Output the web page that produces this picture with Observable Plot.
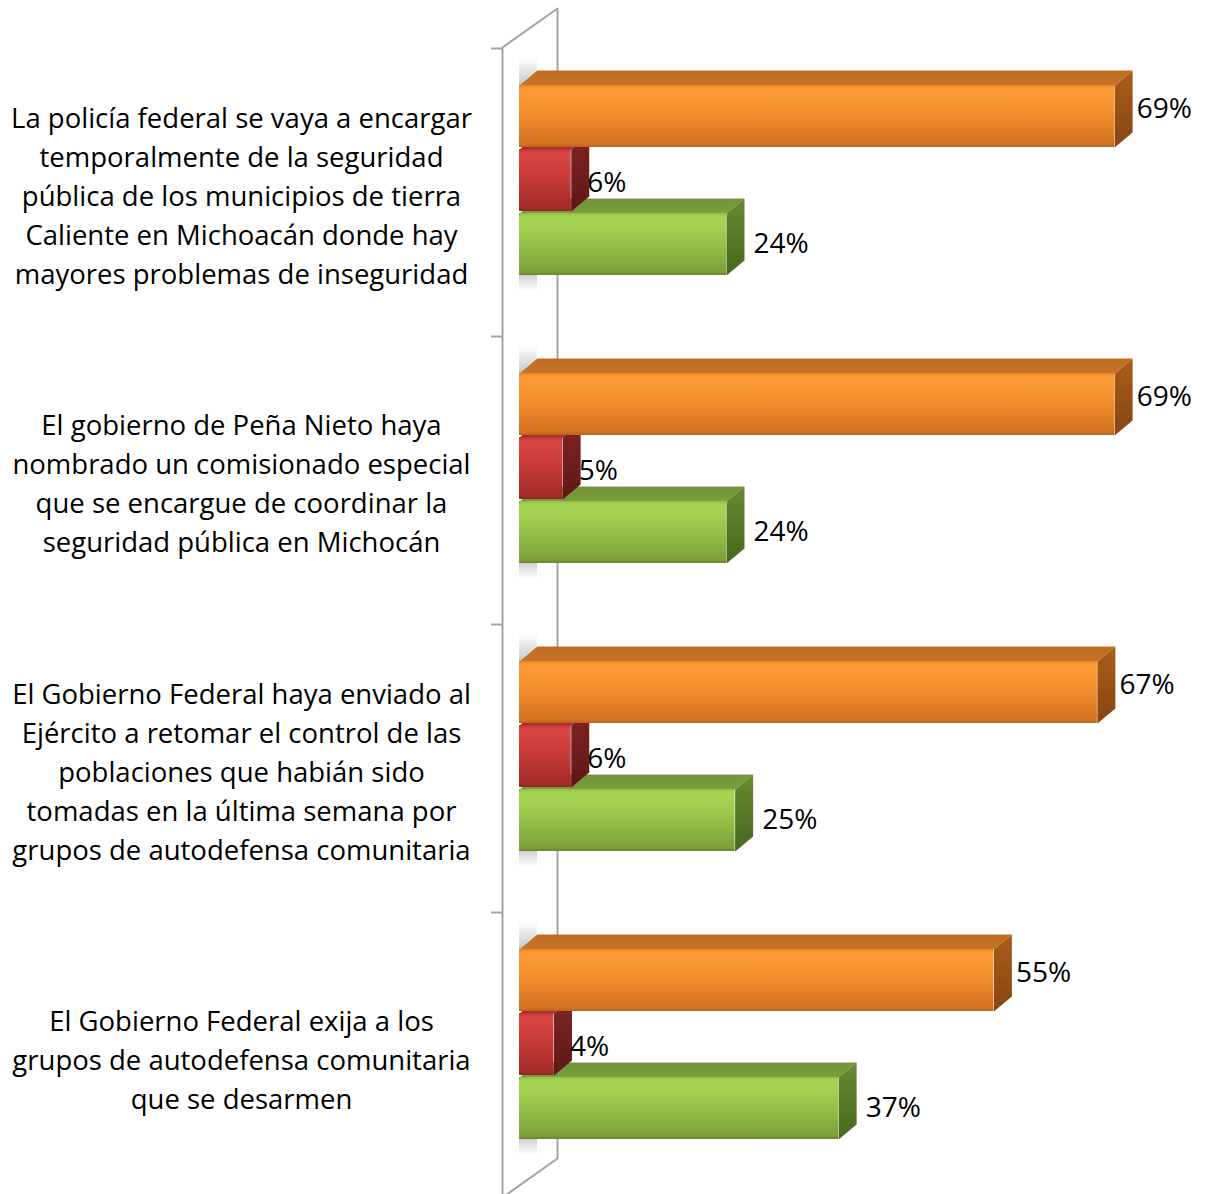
<!DOCTYPE html>
<html><head><meta charset="utf-8">
<script src="https://cdn.jsdelivr.net/npm/d3@7"></script>
<script src="https://cdn.jsdelivr.net/npm/@observablehq/plot@0.6"></script>
<style>html,body{margin:0;padding:0;background:#fff}</style>
</head><body><div id="chart"></div>
<script>
const categories = [
  "La policía federal se vaya a encargar\ntemporalmente de la seguridad\npública de los municipios de tierra\nCaliente en Michoacán donde hay\nmayores problemas de inseguridad",
  "El gobierno de Peña Nieto haya\nnombrado un comisionado especial\nque se encargue de coordinar la\nseguridad pública en Michocán",
  "El Gobierno Federal haya enviado al\nEjército a retomar el control de las\npoblaciones que habián sido\ntomadas en la última semana por\ngrupos de autodefensa comunitaria",
  "El Gobierno Federal exija a los\ngrupos de autodefensa comunitaria\nque se desarmen"
];
const seriesNames = ["De acuerdo", "En desacuerdo", "No sabe"];
const orangeValues = [69, 69, 67, 55];
const redValues = [6, 5, 6, 4];
const greenValues = [24, 24, 25, 37];

// layout constants
const W = 1211, H = 1194;
const PX = 8.625;          // px per percent
const X0 = 519;            // px position of 0%
const UNIT = 64;           // px per bar slot
const Y0 = 85;             // px top of first bar
const GROUP = 4.5;         // slots per category
const BAR = 62 / 64;       // bar thickness in slots
const DXP = 18, DYP = 15;  // 3D depth in px
const DX = DXP / PX, DY = DYP / UNIT;
const FONT = "'Open Sans', 'Noto Sans', sans-serif";
const CAT_SIZE = 27.5, VAL_SIZE = 28;

const valueSets = [orangeValues, redValues, greenValues];
const rows = [];
categories.forEach((c, i) => {
  valueSets.forEach((vals, s) => {
    rows.push({category: c, series: seriesNames[s], s, i, value: vals[i], slot: i * GROUP + s});
  });
});

function topFaces(s) {
  const pts = [];
  rows.filter(d => d.s === s).forEach(d => {
    const id = d.i;
    pts.push({id, x: 0, y: d.slot}, {id, x: d.value, y: d.slot},
             {id, x: d.value + DX, y: d.slot - DY}, {id, x: DX, y: d.slot - DY});
  });
  return pts;
}
function sideFaces(s) {
  const pts = [];
  rows.filter(d => d.s === s).forEach(d => {
    const id = d.i;
    pts.push({id, x: d.value, y: d.slot}, {id, x: d.value + DX, y: d.slot - DY},
             {id, x: d.value + DX, y: d.slot + BAR - DY}, {id, x: d.value, y: d.slot + BAR});
  });
  return pts;
}

// wall (px converted to data units)
const px2x = p => (p - X0) / PX;
const px2y = p => (p - Y0) / UNIT;
const wall = [
  {x: px2x(502), y: px2y(1197)}, {x: px2x(502), y: px2y(47)},
  {x: px2x(557), y: px2y(8)}, {x: px2x(557), y: px2y(1158)},
  {x: px2x(502), y: px2y(1197)}
];
const tickYs = categories.map((c, i) => px2y(48) + i * GROUP);
const groupIdx = categories.map((c, i) => i);

const marks = [
  Plot.line(wall, {x: "x", y: "y", stroke: "#a3a3a3", strokeWidth: 2, fill: "white"}),
  Plot.ruleY(tickYs, {y: d => d, x1: px2x(491), x2: px2x(502), stroke: "#a3a3a3", strokeWidth: 2}),
  // soft shadows of the bars on the wall
  Plot.rect(groupIdx, {x1: 0, x2: DX, y1: i => i * GROUP - 0.42, y2: i => i * GROUP, fill: "url(#shadowUp)"}),
  Plot.rect(groupIdx, {x1: 0, x2: DX, y1: i => i * GROUP + 2 + BAR, y2: i => i * GROUP + 2 + BAR + 0.25, fill: "url(#shadowDown)"})
];
[2, 1, 0].forEach(s => {
  marks.push(Plot.line(sideFaces(s), {x: "x", y: "y", z: "id", stroke: "none", fill: `url(#side${s})`}));
  marks.push(Plot.line(topFaces(s), {x: "x", y: "y", z: "id", stroke: "none", fill: `url(#top${s})`}));
  marks.push(Plot.rect(rows.filter(d => d.s === s), {
    x1: 0, x2: "value", y1: d => d.slot, y2: d => d.slot + BAR, fill: `url(#front${s})`
  }));
});
// value labels
marks.push(Plot.text(rows.filter(d => d.s === 0), {
  x: "value", y: d => d.slot + BAR / 2, dy: -7,
  text: d => `${d.value}%`, textAnchor: "start", dx: DXP + 4, fontSize: VAL_SIZE, fill: "black"
}));
marks.push(Plot.text(rows.filter(d => d.s === 1), {
  x: "value", y: d => d.slot + BAR / 2, dy: 3,
  text: d => `${d.value}%`, textAnchor: "start", dx: DXP - 2, fontSize: VAL_SIZE, fill: "black"
}));
marks.push(Plot.text(rows.filter(d => d.s === 2), {
  x: "value", y: d => d.slot + BAR / 2,
  text: d => `${d.value}%`, textAnchor: "start", dx: DXP + 9, fontSize: VAL_SIZE, fill: "black"
}));
// category labels
marks.push(Plot.text(categories, {
  x: px2x(241), y: (d, i) => i * GROUP + px2y(48 + 144 + 1),
  text: d => d, textAnchor: "middle", lineHeight: 39 / CAT_SIZE, fontSize: CAT_SIZE, fill: "black"
}));

const svg = Plot.plot({
  width: W, height: H,
  marginTop: 0, marginRight: 0, marginBottom: 0, marginLeft: 0,
  x: {domain: [-X0 / PX, (W - X0) / PX], axis: null},
  y: {domain: [-Y0 / UNIT, (H - Y0) / UNIT], reverse: true, axis: null},
  style: {fontFamily: FONT, background: "white"},
  marks
});

const defs = d3.select(svg).insert("defs", ":first-child");
function grad(id, stops, horizontal) {
  const g = defs.append("linearGradient").attr("id", id)
    .attr("x1", 0).attr("y1", 0).attr("x2", horizontal ? 1 : 0).attr("y2", horizontal ? 0 : 1);
  stops.forEach(([o, c, op]) => g.append("stop").attr("offset", o).attr("stop-color", c)
    .attr("stop-opacity", op === undefined ? 1 : op));
}
grad("front0", [[0, "#e8822a"], [0.07, "#fd9b37"], [0.45, "#f48f2d"], [0.95, "#d4721f"], [1, "#b9621a"]]);
grad("top0", [[0, "#c06a1f"], [1, "#c87324"]]);
grad("side0", [[0, "#a95d1b"], [1, "#874511"]]);
grad("front1", [[0, "#c33333"], [0.07, "#da4646"], [0.45, "#c93a3a"], [0.95, "#a42a2a"], [1, "#8c2222"]]);
grad("top1", [[0, "#962b2b"], [1, "#a33030"]]);
grad("side1", [[0, "#822424"], [1, "#5e1717"]]);
grad("front2", [[0, "#93c045"], [0.07, "#a9d556"], [0.45, "#9ac54a"], [0.95, "#7c9f37"], [1, "#68862c"]]);
grad("top2", [[0, "#73943a"], [1, "#7b9d3d"]]);
grad("side2", [[0, "#668a31"], [1, "#4a661f"]]);
grad("shadowUp", [[0, "#9a9a9a", 0], [1, "#9a9a9a", 0.55]]);
grad("shadowDown", [[0, "#9a9a9a", 0.45], [1, "#9a9a9a", 0]]);

document.getElementById("chart").appendChild(svg);
</script>
</body></html>
